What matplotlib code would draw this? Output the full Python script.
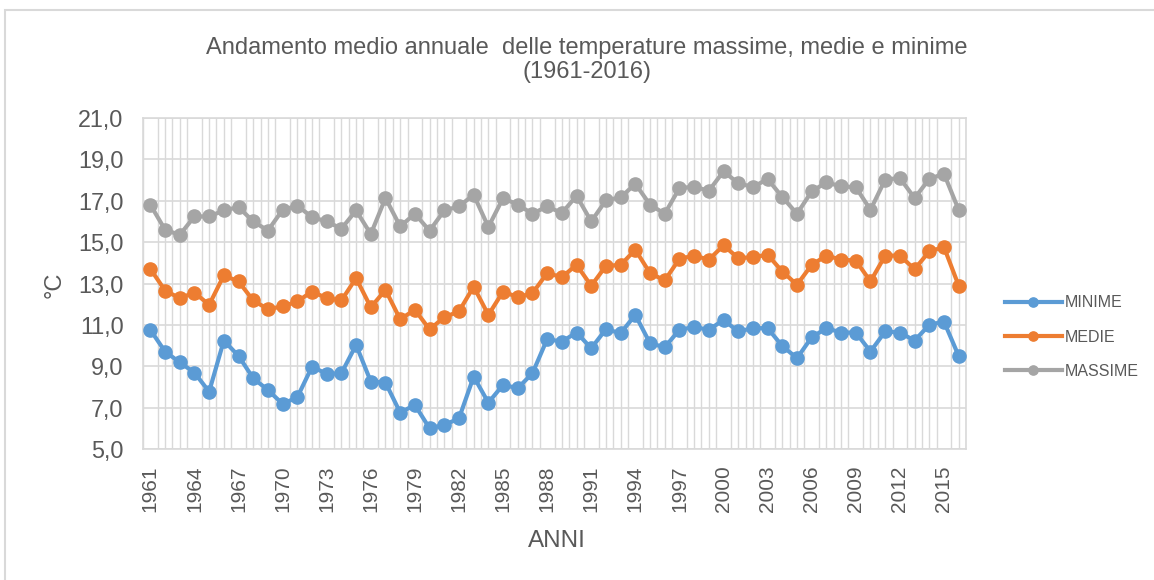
import matplotlib
matplotlib.use("Agg")
import matplotlib.pyplot as plt
from matplotlib.patches import Rectangle
import numpy as np

years = list(range(1961, 2017))

minime = [10.76, 9.71, 9.19, 8.69, 7.77, 10.24, 9.50, 8.42, 7.85, 7.18,
          7.50, 8.98, 8.63, 8.66, 10.03, 8.26, 8.21, 6.76, 7.13, 6.00,
          6.16, 6.48, 8.50, 7.24, 8.10, 7.94, 8.66, 10.31, 10.19, 10.63,
          9.87, 10.79, 10.60, 11.48, 10.11, 9.92, 10.76, 10.90, 10.76, 11.24,
          10.68, 10.84, 10.84, 9.98, 9.39, 10.40, 10.84, 10.63, 10.63, 9.71,
          10.68, 10.63, 10.24, 11.00, 11.16, 9.50]

medie = [13.71, 12.66, 12.29, 12.56, 11.97, 13.39, 13.10, 12.18, 11.76, 11.89,
         12.13, 12.61, 12.29, 12.18, 13.26, 11.85, 12.69, 11.27, 11.73, 10.78,
         11.37, 11.65, 12.85, 11.48, 12.61, 12.34, 12.53, 13.50, 13.31, 13.90,
         12.89, 13.85, 13.90, 14.63, 13.50, 13.15, 14.19, 14.35, 14.15, 14.84,
         14.23, 14.27, 14.39, 13.58, 12.94, 13.90, 14.35, 14.15, 14.11, 13.10,
         14.35, 14.35, 13.69, 14.55, 14.76, 12.90]

massime = [16.81, 15.60, 15.35, 16.24, 16.24, 16.53, 16.69, 16.00, 15.56, 16.56,
           16.76, 16.21, 16.00, 15.65, 16.53, 15.39, 17.13, 15.76, 16.37, 15.55,
           16.53, 16.73, 17.29, 15.73, 17.13, 16.81, 16.37, 16.73, 16.40, 17.24,
           16.00, 17.02, 17.16, 17.82, 16.81, 16.37, 17.61, 17.68, 17.48, 18.42,
           17.85, 17.66, 18.05, 17.18, 16.37, 17.45, 17.89, 17.69, 17.66, 16.56,
           18.02, 18.10, 17.13, 18.05, 18.31, 16.56]

series_names = ["MINIME", "MEDIE", "MASSIME"]
colors = ["#5B9BD5", "#ED7D31", "#A5A5A5"]
yticks = [5, 7, 9, 11, 13, 15, 17, 19, 21]
xtick_years = list(range(1961, 2017, 3))

plt.rcParams['font.family'] = ['Liberation Sans', 'DejaVu Sans']
text_color = "#595959"
grid_color = "#D9D9D9"

fig = plt.figure(figsize=(11.54, 5.80), dpi=100)
# outer chart border
fig.patches.append(Rectangle((5 / 1154, -0.05), 1.2, 1 - 10 / 580 + 0.05,
                             transform=fig.transFigure, fill=False,
                             edgecolor="#D9D9D9", linewidth=1.5, zorder=0))

ax = fig.add_axes([143 / 1154, 1 - 449 / 580, (966 - 143) / 1154, (449 - 118) / 580])

handles = []
for vals, name, c in zip([minime, medie, massime], series_names, colors):
    h, = ax.plot(years, vals, color=c, linewidth=3.0, marker="o", markersize=9.5,
                 label=name, solid_joinstyle="round", zorder=3)
    handles.append(h)

ax.set_xlim(1960.5, 2016.5)
ax.set_ylim(5, 21)
ax.set_yticks(yticks)
ax.set_yticklabels([f"{v:.1f}".replace(".", ",") for v in yticks])
ax.set_xticks(xtick_years)
ax.set_xticklabels([str(y) for y in xtick_years], rotation=90)
ax.set_xticks(np.arange(1960.5, 2016.6, 0.5), minor=True)
ax.tick_params(axis="both", which="both", length=0, colors=text_color)
ax.tick_params(axis="y", pad=14, labelsize=16.8)
ax.tick_params(axis="x", pad=12, labelsize=15)

ax.grid(True, axis="y", which="major", color=grid_color, linewidth=1.2, zorder=0)
ax.grid(True, axis="x", which="minor", color=grid_color, linewidth=1.0, zorder=0)
ax.set_axisbelow(True)
for s in ax.spines.values():
    s.set_color(grid_color)
    s.set_linewidth(1.2)

fig.text(587 / 1154, 1 - 60 / 580,
         "Andamento medio annuale  delle temperature massime, medie e minime\n(1961-2016)",
         ha="center", va="center", fontsize=17, color=text_color, linespacing=1.1)
fig.text(557 / 1154, 1 - 541 / 580, "ANNI", ha="center", va="center",
         fontsize=17.5, color=text_color)
fig.text(55 / 1154, 1 - 285 / 580, "°C", ha="center", va="center",
         rotation=90, fontsize=17, color=text_color)

leg = fig.legend(handles=handles, loc="center left",
                 bbox_to_anchor=(1005 / 1154, 1 - 337 / 580),
                 bbox_transform=fig.transFigure, frameon=False, borderpad=0,
                 borderaxespad=0, fontsize=11.5, handlelength=3.55,
                 markerscale=0.7, labelspacing=1.2, handletextpad=0.2,
                 labelcolor=text_color)

fig.savefig("out.png", dpi=100)
